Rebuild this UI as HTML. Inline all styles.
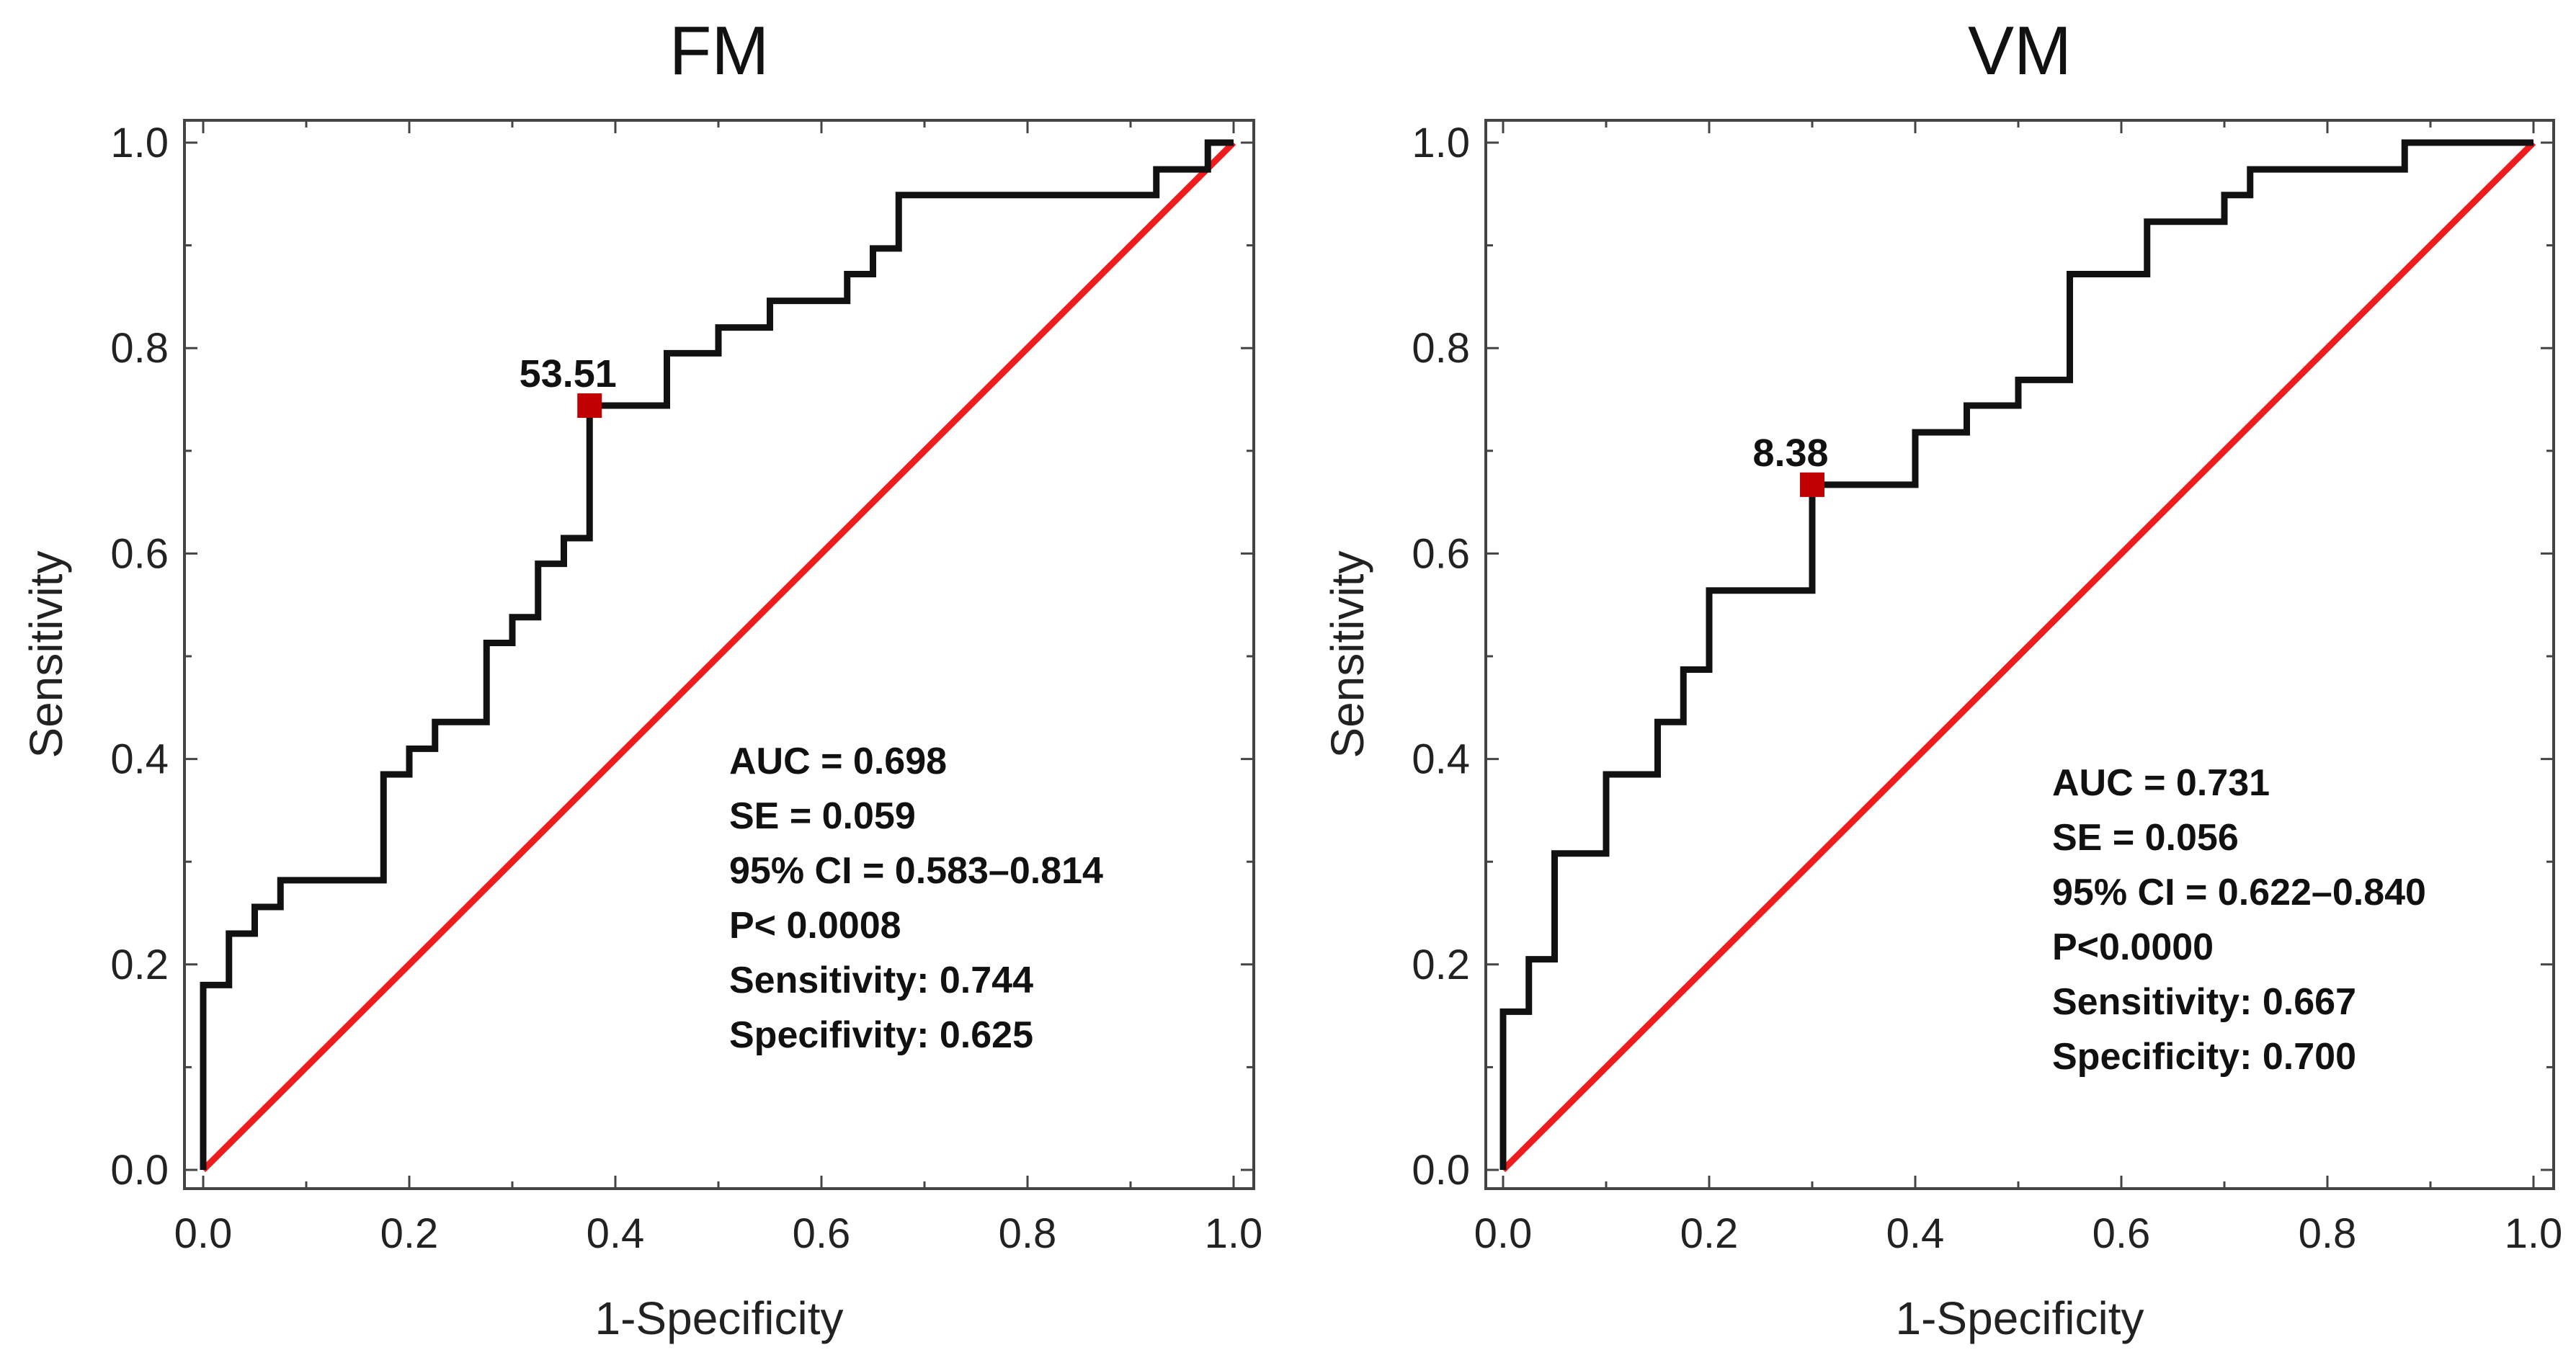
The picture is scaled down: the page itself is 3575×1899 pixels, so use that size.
<!DOCTYPE html>
<html><head><meta charset="utf-8"><style>
html,body{margin:0;padding:0;background:#fff;}
svg{display:block;font-family:"Liberation Sans",Arial,sans-serif;}
</style></head><body>
<svg id="chart" width="3575" height="1899" viewBox="0 0 3575 1899" xmlns="http://www.w3.org/2000/svg"></svg>
<script>
// ---- data ----
const fmX = [0,0,0.025,0.05,0.075,0.175,0.2,0.225,0.275,0.3,0.325,0.35,0.375,0.45,0.5,0.55,0.625,0.65,0.675,0.925,0.975,1];
const fmY = [0,0.18,0.23,0.256,0.282,0.385,0.41,0.436,0.513,0.538,0.59,0.615,0.744,0.795,0.82,0.846,0.872,0.897,0.949,0.974,1,1];
const vmX = [0,0,0.025,0.05,0.1,0.15,0.175,0.2,0.3,0.4,0.45,0.5,0.55,0.625,0.7,0.725,0.875,1];
const vmY = [0,0.154,0.205,0.308,0.385,0.436,0.487,0.564,0.667,0.718,0.744,0.769,0.872,0.923,0.949,0.974,1,1];
const fmCut = [0.375,0.744];
const vmCut = [0.3,0.667];
const fmCutLabel = "53.51";
const vmCutLabel = "8.38";
const tickLabels = ["0.0","0.2","0.4","0.6","0.8","1.0"];
const tickValues = [0,0.2,0.4,0.6,0.8,1.0];
const fmStats = ["AUC = 0.698","SE = 0.059","95% CI = 0.583\u20130.814","P< 0.0008","Sensitivity: 0.744","Specifivity: 0.625"];
const vmStats = ["AUC = 0.731","SE = 0.056","95% CI = 0.622\u20130.840","P<0.0000","Sensitivity: 0.667","Specificity: 0.700"];

const NS="http://www.w3.org/2000/svg";
const svg=document.getElementById('chart');
function mk(tag,attrs,parent){const e=document.createElementNS(NS,tag);for(const k in attrs)e.setAttribute(k,attrs[k]);(parent||svg).appendChild(e);return e;}

function panel(cfg){
  const g=mk('g',{});
  
  
  const sx=v=>cfg.x0+(cfg.x1-cfg.x0)*v;
  const sy=v=>cfg.y0+(cfg.y1-cfg.y0)*v;
  const fr=mk('rect',{x:cfg.fl,y:cfg.ft,width:cfg.fr-cfg.fl,height:cfg.fb-cfg.ft,fill:'none',stroke:'#444',"stroke-width":4},g);
  
  
  for(let i=0;i<=10;i++){
    const v=i/10, L=(i%2===0)?18:10;
    const X=sx(v), Y=sy(v);
    mk('line',{x1:X,y1:cfg.fb,x2:X,y2:cfg.fb-L,stroke:'#444',"stroke-width":3},g);
    mk('line',{x1:X,y1:cfg.ft,x2:X,y2:cfg.ft+L,stroke:'#444',"stroke-width":3},g);
    mk('line',{x1:cfg.fl,y1:Y,x2:cfg.fl+L,y2:Y,stroke:'#444',"stroke-width":3},g);
    mk('line',{x1:cfg.fr,y1:Y,x2:cfg.fr-L,y2:Y,stroke:'#444',"stroke-width":3},g);
  }
  tickValues.forEach((v,i)=>{
    const t=mk('text',{x:sx(v),y:1732,"text-anchor":'middle',"font-size":58,fill:'#222'},g);
    t.textContent=tickLabels[i];
    
    
    const u=mk('text',{x:cfg.fl-22,y:sy(v)+20,"text-anchor":'end',"font-size":58,fill:'#222'},g);
    u.textContent=tickLabels[i];
    
    
  });
  const d=mk('line',{x1:sx(0),y1:sy(0),x2:sx(1),y2:sy(1),stroke:'#ee1c1c',"stroke-width":9},g);
  
  
  let p='M'+sx(cfg.xs[0])+' '+sy(cfg.ys[0]);
  for(let i=1;i<cfg.xs.length;i++){p+=' L'+sx(cfg.xs[i])+' '+sy(cfg.ys[i-1])+' L'+sx(cfg.xs[i])+' '+sy(cfg.ys[i]);}
  const c=mk('path',{d:p,fill:'none',stroke:'#111',"stroke-width":9,"stroke-linejoin":'miter'},g);
  
  
  const m=mk('rect',{x:sx(cfg.cut[0])-17,y:sy(cfg.cut[1])-17,width:34,height:34,fill:'#c00000'},g);
  
  
  const ml=mk('text',{x:sx(cfg.cut[0])-30,y:sy(cfg.cut[1])-26,"text-anchor":'middle',"font-size":54,"font-weight":'bold',fill:'#111'},g);
  ml.textContent=cfg.cutLabel;
  
  
  cfg.stats.forEach((s,i)=>{
    const t=mk('text',{x:cfg.sx,y:cfg.sy+i*76,"font-size":52,"font-weight":'bold',fill:'#111'},g);
    t.textContent=s;
    
    
  });
  const ti=mk('text',{x:(cfg.fl+cfg.fr)/2,y:103,"text-anchor":'middle',"font-size":96,fill:'#111'},g);
  ti.textContent=cfg.title;
  
  
  const xt=mk('text',{x:(cfg.fl+cfg.fr)/2,y:1852,"text-anchor":'middle',"font-size":64,fill:'#222'},g);
  xt.textContent='1-Specificity';
  
  
  const yt=mk('text',{x:0,y:0,"text-anchor":'middle',"font-size":64,fill:'#222',transform:'translate('+(cfg.fl-170)+' '+((cfg.ft+cfg.fb)/2)+') rotate(-90)'},g);
  yt.textContent='Sensitivity';
  
  
}
panel({name:'fm',title:'FM',x0:282,x1:1712,y0:1624,y1:198,fl:256,fr:1740,ft:167,fb:1650,xs:fmX,ys:fmY,cut:fmCut,cutLabel:fmCutLabel,stats:fmStats,sx:1012,sy:1074});
panel({name:'vm',title:'VM',x0:2086,x1:3516,y0:1624,y1:198,fl:2062,fr:3544,ft:167,fb:1650,xs:vmX,ys:vmY,cut:vmCut,cutLabel:vmCutLabel,stats:vmStats,sx:2848,sy:1104});
</script>
</body></html>
